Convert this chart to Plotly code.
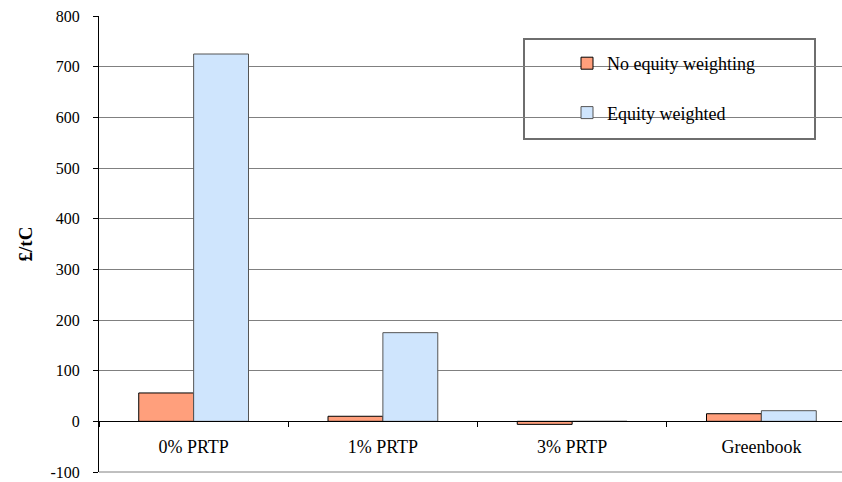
import plotly.graph_objects as go

# Social cost of carbon by discounting scheme (£/tC)
categories = ["0% PRTP", "1% PRTP", "3% PRTP", "Greenbook"]
no_equity_weighting = [56, 10, -6, 15]
equity_weighted = [725, 175, 0, 21]

y_ticks = [-100, 0, 100, 200, 300, 400, 500, 600, 700, 800]
y_tick_labels = [str(v) for v in y_ticks]

FONT = "Liberation Serif"
W, H = 842, 482
M_L, M_R, M_T, M_B = 99, 0, 16, 10
PLOT_W = W - M_L - M_R
PLOT_H = H - M_T - M_B


def px_x(px):
    return (px - M_L) / PLOT_W


def px_y(py):
    return (H - M_B - py) / PLOT_H


fig = go.Figure()
fig.add_trace(go.Bar(
    name="No equity weighting",
    x=categories, y=no_equity_weighting,
    marker=dict(color="#ff9f7c", line=dict(color="#000000", width=1)),
    legendgroup="a",
))
fig.add_trace(go.Bar(
    name="Equity weighted",
    x=categories, y=equity_weighted,
    marker=dict(color="#cfe5fd", line=dict(color="#555555", width=1)),
    legendgroup="b",
))

y_min, y_max = y_ticks[0], y_ticks[-1]
zero_pos = (0 - y_min) / (y_max - y_min)

fig.update_layout(
    width=W, height=H,
    margin=dict(l=M_L, r=M_R, t=M_T, b=M_B, pad=0, autoexpand=False),
    paper_bgcolor="white", plot_bgcolor="white",
    font=dict(family=FONT, size=16, color="black"),
    barmode="group", bargap=0.42, bargroupgap=0,
    showlegend=True,
    legend=dict(
        x=px_x(567), xanchor="left",
        y=px_y(45), yanchor="top",
        bgcolor="rgba(0,0,0,0)", borderwidth=0,
        traceorder="grouped", tracegroupgap=23,
        font=dict(family=FONT, size=18),
    ),
    xaxis=dict(
        type="category",
        range=[-0.5, 3.5 - (856 - W) / 189],
        anchor="free", position=zero_pos,
        showline=True, linecolor="black", linewidth=1,
        ticks="outside", tickson="boundaries", ticklen=5, tickcolor="black",
        showgrid=False, zeroline=False,
        tickfont=dict(family=FONT, size=18),
        ticklabelstandoff=9,
        automargin=False,
    ),
    yaxis=dict(
        range=[y_min, y_max],
        tickvals=y_ticks, ticktext=y_tick_labels,
        showline=True, linecolor="black", linewidth=1,
        ticks="outside", ticklen=5, tickcolor="black",
        showgrid=True, gridcolor="#808080", gridwidth=1,
        zeroline=False,
        tickfont=dict(family=FONT, size=16),
        ticklabelstandoff=10,
        ticklabeloverflow="allow",
        automargin=False,
        title=dict(text="<b>£/tC</b>", font=dict(family=FONT, size=19), standoff=12),
    ),
    shapes=[
        # legend frame
        dict(type="rect", xref="paper", yref="paper",
             x0=px_x(524), x1=px_x(815), y0=px_y(139), y1=px_y(39),
             line=dict(color="#6e6e6e", width=2), fillcolor="white", layer="below"),
        # bottom border of the plotting area
        dict(type="line", xref="paper", yref="paper",
             x0=0, x1=1, y0=0, y1=0, line=dict(color="#808080", width=1)),
    ],
)

fig.write_html("out.html")
